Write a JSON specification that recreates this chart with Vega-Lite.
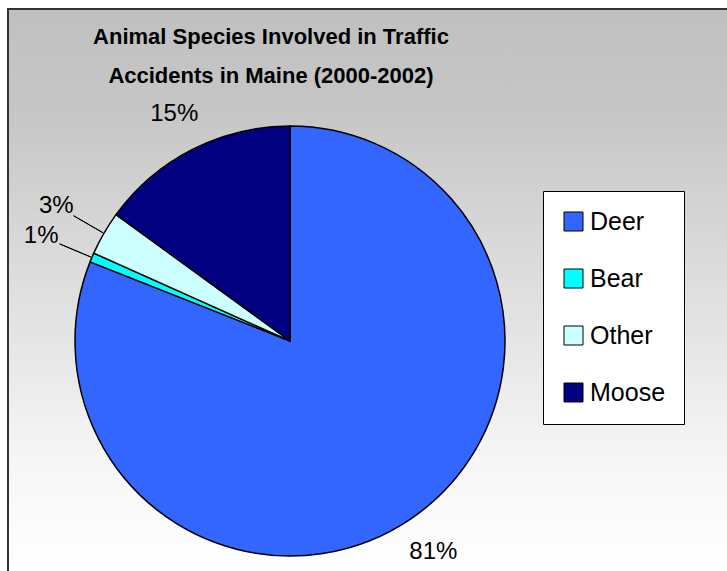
{
  "$schema": "https://vega.github.io/schema/vega-lite/v6.json",
  "width": 727,
  "height": 571,
  "autosize": {"type": "fit", "contains": "padding"},
  "padding": {"left": 8, "top": 9, "right": -3, "bottom": -3},
  "background": "white",
  "view": {
    "fill": {"gradient": "linear", "x1": 0, "y1": 0, "x2": 0, "y2": 1,
      "stops": [
        {"offset": 0, "color": "#C0C0C0"},
        {"offset": 0.18, "color": "#C6C6C6"},
        {"offset": 0.8, "color": "#F6F6F6"},
        {"offset": 1, "color": "#FFFFFF"}
      ]},
    "stroke": "#333333",
    "strokeWidth": 2
  },
  "title": {
    "text": ["Animal Species Involved in Traffic", "Accidents in Maine (2000-2002)"],
    "font": "Liberation Sans",
    "fontSize": 22,
    "fontWeight": "bold",
    "lineHeight": 39,
    "color": "black",
    "anchor": "middle",
    "dx": -98,
    "offset": -79
  },
  "data": {
    "values": [
      {"animal": "Deer", "share": 0.81, "rank": 1},
      {"animal": "Bear", "share": 0.007, "rank": 2},
      {"animal": "Other", "share": 0.033, "rank": 3},
      {"animal": "Moose", "share": 0.15, "rank": 4}
    ]
  },
  "layer": [
    {
      "mark": {"type": "arc", "x": 282, "y": 332, "radius": 215, "stroke": "black", "strokeWidth": 1.5},
      "encoding": {
        "theta": {"field": "share", "type": "quantitative", "stack": true},
        "order": {"field": "rank", "type": "quantitative"},
        "color": {
          "field": "animal", "type": "nominal",
          "scale": {"domain": ["Deer", "Bear", "Other", "Moose"], "range": ["#3366FF", "#00FFFF", "#CCFFFF", "#000080"]},
          "legend": {
            "orient": "none", "legendX": 535, "legendY": 182, "title": null,
            "symbolType": "square", "symbolSize": 361, "symbolStrokeColor": "black", "symbolStrokeWidth": 1,
            "labelFont": "Liberation Sans", "labelFontSize": 25, "labelColor": "black", "labelOffset": 4,
            "rowPadding": 31, "padding": 18, "strokeColor": "black", "fillColor": "white"
          }
        }
      }
    },
    {
      "mark": {"type": "text", "x": 282, "y": 332, "radius": 255, "font": "Liberation Sans", "fontSize": 24, "color": "black"},
      "encoding": {
        "theta": {"field": "share", "type": "quantitative", "stack": true},
        "order": {"field": "rank", "type": "quantitative"},
        "detail": {"field": "animal", "type": "nominal"},
        "text": {"condition": {"test": "datum.share < 0.1", "value": ""}, "field": "share", "type": "quantitative", "format": ".0%"}
      }
    },
    {
      "mark": {"type": "text", "x": 282, "y": 332, "radius": 270, "font": "Liberation Sans", "fontSize": 24, "color": "black"},
      "encoding": {
        "theta": {"field": "share", "type": "quantitative", "stack": true},
        "order": {"field": "rank", "type": "quantitative"},
        "detail": {"field": "animal", "type": "nominal"},
        "text": {"condition": {"test": "datum.share >= 0.1", "value": ""}, "field": "share", "type": "quantitative", "format": ".0%"}
      }
    },
    {
      "transform": [
        {"stack": "share", "groupby": [], "sort": [{"field": "rank", "order": "ascending"}], "as": ["s0", "s1"]},
        {"fold": ["s0", "s1"], "as": ["edge", "pos"]},
        {"aggregate": [{"op": "mean", "field": "pos", "as": "mid"}], "groupby": ["animal", "share"]},
        {"filter": "datum.share < 0.1"}
      ],
      "mark": {"type": "arc", "x": 282, "y": 332, "radius": 250, "radius2": 216, "fill": null, "stroke": "black", "strokeWidth": 1},
      "encoding": {
        "theta": {"field": "mid", "type": "quantitative", "scale": {"domain": [0, 1]}},
        "theta2": {"field": "mid"}
      }
    }
  ],
  "resolve": {"scale": {"theta": "independent"}}
}
